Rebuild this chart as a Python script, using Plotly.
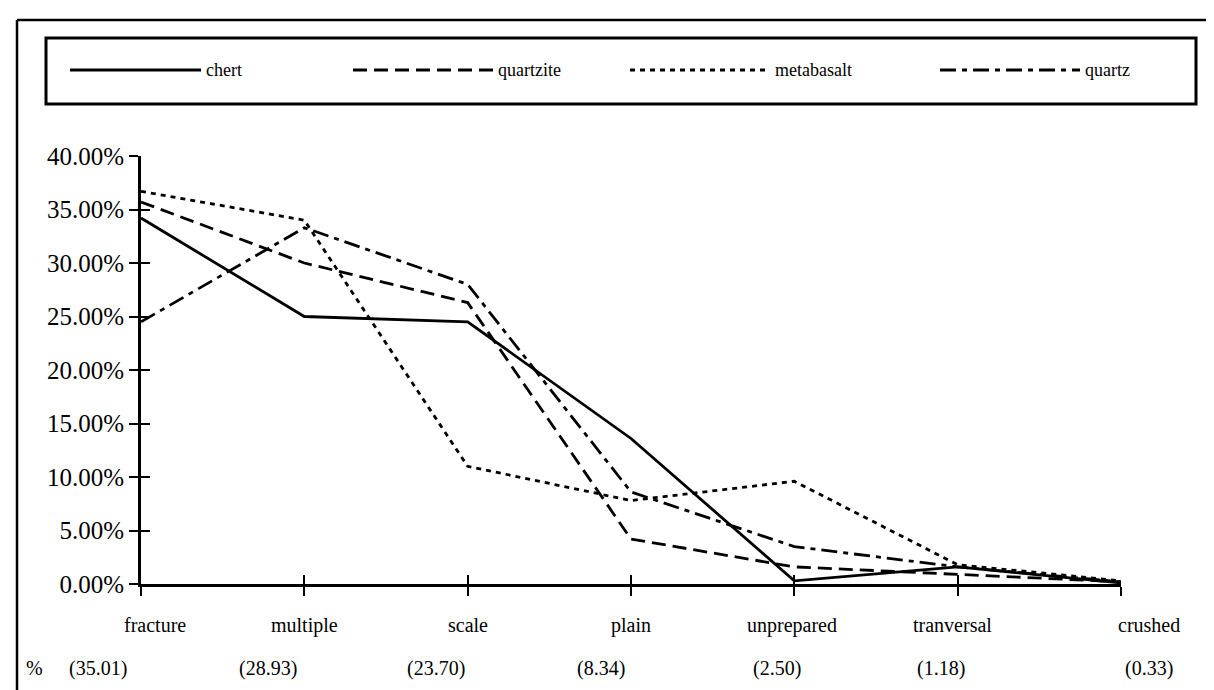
import plotly.graph_objects as go

categories = ["fracture", "multiple", "scale", "plain", "unprepared", "tranversal", "crushed"]
shares = ["(35.01)", "(28.93)", "(23.70)", "(8.34)", "(2.50)", "(1.18)", "(0.33)"]

series_names = ["chert", "quartzite", "metabasalt", "quartz"]
chert = [34.2, 25.0, 24.5, 13.6, 0.3, 1.6, 0.1]
quartzite = [35.7, 30.0, 26.3, 4.2, 1.6, 0.9, 0.2]
metabasalt = [36.7, 34.0, 11.0, 7.8, 9.6, 1.8, 0.3]
quartz = [24.5, 33.3, 28.0, 8.6, 3.5, 1.6, 0.2]
series_values = [chert, quartzite, metabasalt, quartz]

y_ticks = [0, 5, 10, 15, 20, 25, 30, 35, 40]
y_ticktext = [f"{v:.2f}%" for v in y_ticks]

dashes = ["solid", "14px,7px", "5px,5px", "16px,6px,5px,6px"]

W, H = 1214, 690
L, R, T, B = 133, 101, 148, 114
PW, PH = W - L - R, H - T - B

def px(xp):
    return (xp - L) / PW

def py(yp):
    return (H - B - yp) / PH

FONT = "Liberation Serif"
fig = go.Figure()
xs = list(range(len(categories)))
for name, vals, d in zip(series_names, series_values, dashes):
    fig.add_trace(go.Scatter(x=xs, y=vals, mode="lines", name=name,
                             line=dict(color="black", width=2.8, dash=d),
                             showlegend=False, cliponaxis=False))
# dummy trace for overlay axes
fig.add_trace(go.Scatter(x=[None], y=[None], xaxis="x2", yaxis="y2", showlegend=False, hoverinfo="skip"))

fig.update_layout(
    width=W, height=H, margin=dict(l=L, r=R, t=T, b=B),
    plot_bgcolor="white", paper_bgcolor="white",
    font=dict(family=FONT, color="black", size=18),
    xaxis=dict(range=[0, 6], tickvals=xs, showticklabels=False, showgrid=False, zeroline=False,
               showline=True, linecolor="black", linewidth=3, ticks="outside", ticklen=9,
               tickwidth=2, tickcolor="black"),
    yaxis=dict(range=[0, 40], tickvals=y_ticks, ticktext=y_ticktext, showgrid=False, zeroline=False,
               showline=True, linecolor="black", linewidth=3, ticks="outside", ticklen=9,
               tickwidth=2, tickcolor="black", tickfont=dict(size=25, family=FONT)),
    xaxis2=dict(range=[0, 6], tickvals=xs, overlaying="x", showticklabels=False, showgrid=False,
                zeroline=False, ticks="inside", ticklen=9, tickwidth=2, tickcolor="black"),
    yaxis2=dict(range=[0, 40], tickvals=y_ticks, overlaying="y", showticklabels=False, showgrid=False,
                zeroline=False, ticks="inside", ticklen=9, tickwidth=2, tickcolor="black"),
)

shapes = []
# outer frame lines (top and left)
shapes.append(dict(type="line", xref="paper", yref="paper", x0=px(9), x1=px(1214), y0=py(12), y1=py(12),
                   line=dict(color="black", width=2.5)))
shapes.append(dict(type="line", xref="paper", yref="paper", x0=px(9), x1=px(9), y0=py(12), y1=py(690),
                   line=dict(color="black", width=2.5)))
# legend box
shapes.append(dict(type="rect", xref="paper", yref="paper", x0=px(38), x1=px(1188), y0=py(30), y1=py(96),
                   line=dict(color="black", width=3), fillcolor="rgba(0,0,0,0)"))

annotations = []
leg_x = [(62, 193), (345, 485), (622, 762), (932, 1072)]
leg_y = 62
for name, d, (a, b) in zip(series_names, dashes, leg_x):
    shapes.append(dict(type="line", xref="paper", yref="paper", x0=px(a), x1=px(b), y0=py(leg_y), y1=py(leg_y),
                       line=dict(color="black", width=2.8, dash=d)))
    annotations.append(dict(xref="paper", yref="paper", x=px(b + 3), y=py(leg_y), text=name, showarrow=False,
                            xanchor="left", yanchor="middle", font=dict(size=18, family=FONT)))

name_shift = [14, 0, 0, 0, -2, -5, 28]
share_shift = [-43, -36, -32, -30, -17, -17, 28]
for i, (c, s) in enumerate(zip(categories, shares)):
    annotations.append(dict(xref="x", yref="paper", x=i, y=py(617), text=c, showarrow=False,
                            xshift=name_shift[i], xanchor="center", yanchor="middle",
                            font=dict(size=20, family=FONT)))
    annotations.append(dict(xref="x", yref="paper", x=i, y=py(660), text=s, showarrow=False,
                            xshift=share_shift[i], xanchor="center", yanchor="middle",
                            font=dict(size=20, family=FONT)))
annotations.append(dict(xref="paper", yref="paper", x=px(26), y=py(660), text="%", showarrow=False,
                        xanchor="center", yanchor="middle", font=dict(size=20, family=FONT)))

fig.update_layout(shapes=shapes, annotations=annotations)
fig.write_html("out.html")
